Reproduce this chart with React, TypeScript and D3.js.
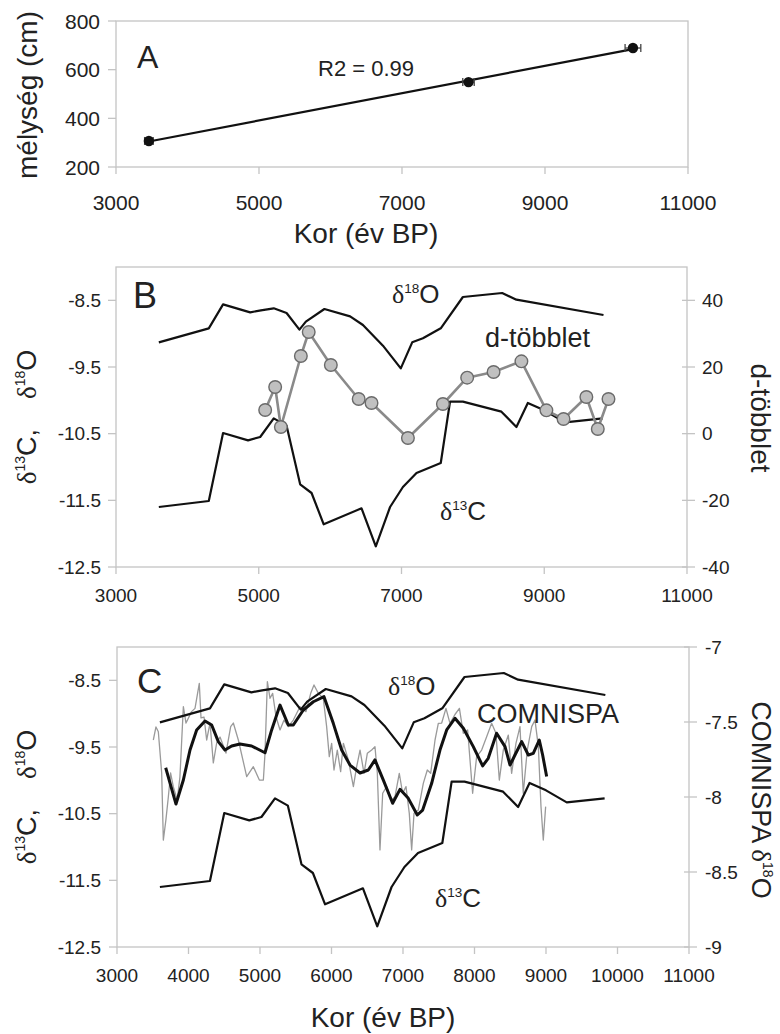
import React from "react";
import * as d3 from "d3";

// ---------- DATA ----------
// Panel A: age-depth
const ageA = [3460, 7930, 10230];
const depthA = [307, 549, 689];
const ageErrA = [60, 80, 110];
const r2Label = "R2 = 0.99";

// delta 18O (speleothem)
const d18OAges = [3600, 4300, 4500, 4880, 5030, 5210, 5390, 5570, 5660, 5920, 6280, 6460, 6740, 6990, 7150, 7300, 7550, 7860, 8410, 8610, 9830];
const d18O = [-9.13, -8.92, -8.56, -8.68, -8.65, -8.62, -8.69, -8.94, -8.82, -8.63, -8.74, -8.87, -9.18, -9.52, -9.13, -9.07, -8.92, -8.45, -8.39, -8.49, -8.72];

// delta 13C
const d13CAges = [3600, 4300, 4500, 4850, 5020, 5210, 5390, 5580, 5740, 5910, 6440, 6640, 6840, 7020, 7210, 7550, 7680, 7860, 8400, 8610, 8770, 9000, 9290, 9820];
const d13C = [-11.6, -11.51, -10.49, -10.6, -10.55, -10.27, -10.38, -11.26, -11.39, -11.86, -11.62, -12.19, -11.6, -11.3, -11.09, -10.94, -10.02, -10.02, -10.17, -10.4, -10.04, -10.15, -10.33, -10.27];

// d-excess
const dxsAges = [5090, 5230, 5310, 5590, 5700, 6010, 6400, 6580, 7090, 7580, 7920, 8290, 8680, 9030, 9270, 9590, 9750, 9900];
const dxs = [7.1, 14, 2, 23.3, 30.5, 20.6, 10.4, 9.2, -1.3, 8.9, 16.8, 18.5, 21.7, 7, 4.4, 11, 1.4, 10.4];

// COMNISPA smoothed
const comSmoothAges = [3681, 3825, 3928, 4021, 4114, 4231, 4324, 4417, 4510, 4604, 4720, 4883, 5070, 5163, 5280, 5396, 5466, 5606, 5746, 5895, 6025, 6142, 6259, 6399, 6515, 6608, 6725, 6855, 6958, 7074, 7200, 7275, 7401, 7517, 7611, 7727, 7844, 7983, 8114, 8192, 8309, 8427, 8497, 8566, 8660, 8753, 8822, 8906, 8953, 9009];
const comSmooth = [-7.805, -8.047, -7.887, -7.687, -7.553, -7.493, -7.52, -7.631, -7.687, -7.66, -7.647, -7.66, -7.705, -7.553, -7.387, -7.52, -7.52, -7.42, -7.365, -7.331, -7.509, -7.687, -7.787, -7.84, -7.82, -7.753, -7.887, -8.042, -7.949, -8.009, -8.12, -8.087, -7.909, -7.687, -7.553, -7.475, -7.542, -7.664, -7.793, -7.742, -7.575, -7.664, -7.787, -7.72, -7.631, -7.72, -7.709, -7.62, -7.72, -7.864];

// COMNISPA raw
const comRawAges = [3508, 3545, 3578, 3625, 3648, 3684, 3718, 3750, 3788, 3842, 3880, 3928, 3965, 4043, 4091, 4151, 4175, 4217, 4254, 4301, 4347, 4394, 4441, 4524, 4590, 4627, 4697, 4814, 4907, 4991, 5047, 5070, 5103, 5140, 5177, 5224, 5280, 5336, 5396, 5466, 5559, 5643, 5709, 5755, 5816, 5885, 5932, 5969, 6002, 6035, 6081, 6128, 6166, 6236, 6306, 6352, 6399, 6455, 6501, 6562, 6608, 6641, 6678, 6716, 6771, 6841, 6888, 6948, 6995, 7042, 7088, 7121, 7154, 7214, 7284, 7340, 7387, 7448, 7494, 7541, 7601, 7657, 7727, 7789, 7843, 7904, 7974, 8030, 8100, 8170, 8240, 8300, 8347, 8403, 8473, 8519, 8580, 8636, 8682, 8738, 8800, 8846, 8893, 8930, 8962, 8995];
const comRaw = [-7.62, -7.533, -7.565, -7.84, -8.287, -8.153, -8.0, -7.84, -7.933, -8.02, -7.867, -7.398, -7.507, -7.431, -7.409, -7.242, -7.473, -7.467, -7.62, -7.507, -7.773, -7.64, -7.6, -7.707, -7.531, -7.507, -7.62, -7.864, -7.798, -7.887, -7.887, -7.709, -7.231, -7.342, -7.309, -7.465, -7.553, -7.487, -7.531, -7.487, -7.398, -7.431, -7.309, -7.253, -7.309, -7.342, -7.531, -7.731, -7.642, -7.82, -7.687, -7.831, -7.642, -7.753, -7.931, -7.798, -7.687, -7.842, -7.709, -7.687, -7.664, -7.842, -8.353, -7.975, -7.931, -8.02, -7.998, -7.842, -7.975, -7.931, -8.109, -8.353, -8.109, -8.087, -7.909, -7.82, -7.842, -7.62, -7.509, -7.507, -7.409, -7.509, -7.45, -7.409, -7.575, -7.553, -7.975, -7.731, -7.687, -7.598, -7.509, -7.575, -7.887, -7.687, -7.587, -7.842, -7.642, -7.531, -7.975, -7.687, -7.531, -7.487, -7.664, -8.064, -8.287, -8.064];

// ticks
const ticksAx = [3000, 5000, 7000, 9000, 11000];
const ticksAy = [200, 400, 600, 800];
const ticksBx = [3000, 5000, 7000, 9000, 11000];
const ticksIso = [-12.5, -11.5, -10.5, -9.5, -8.5];
const ticksDxs = [-40, -20, 0, 20, 40];
const ticksCx = [3000, 4000, 5000, 6000, 7000, 8000, 9000, 10000, 11000];
const ticksCom = [-9, -8.5, -8, -7.5, -7];

// ---------- STYLE ----------
const SANS = "'Liberation Sans', Arial, Helvetica, sans-serif";
const SERIF = "'Liberation Serif', 'Times New Roman', serif";
const AXIS = "#c4c4c4";
const TXT = "#222";

type Pt = [number, number];
const zip = (a: number[], b: number[]): Pt[] => a.map((v, i) => [v, b[i]]);

function Frame({ x, y, tl, tr, tb }: { x: any; y: any; tl?: number[]; tr?: { scale: any; ticks: number[] }; tb: number[] }) {
  const [x0, x1] = x.range();
  const [y0, y1] = y.range();
  return (
    <g>
      <rect x={x0} y={y1} width={x1 - x0} height={y0 - y1} fill="none" stroke={AXIS} strokeWidth={1.3} />
      {tb.map((t) => (
        <line key={"b" + t} x1={x(t)} x2={x(t)} y1={y0} y2={y0 + 7} stroke={AXIS} strokeWidth={1.3} />
      ))}
      {tl && tl.map((t) => (
        <line key={"l" + t} x1={x0 - 8} x2={x0} y1={y(t)} y2={y(t)} stroke={AXIS} strokeWidth={1.3} />
      ))}
      {tr && tr.ticks.map((t) => (
        <line key={"r" + t} x1={x1 - 5} x2={x1 + 8} y1={tr.scale(t)} y2={tr.scale(t)} stroke={AXIS} strokeWidth={1.3} />
      ))}
    </g>
  );
}

function Delta({ iso, el, size, x, y, anchor = "start" }: { iso: string; el: string; size: number; x: number; y: number; anchor?: string }) {
  return (
    <text x={x} y={y} fontSize={size} fontFamily={SANS} fill={TXT} textAnchor={anchor as any}>
      <tspan fontFamily={SERIF}>δ</tspan>
      <tspan fontSize={size * 0.52} dy={-size * 0.4}>{iso}</tspan>
      <tspan dy={size * 0.4}>{el}</tspan>
    </text>
  );
}

export default function App() {
  // Panel A
  const xA = d3.scaleLinear().domain([3000, 11000]).range([116, 688]);
  const yA = d3.scaleLinear().domain([200, 800]).range([167, 21]);
  const mx = d3.mean(ageA)!;
  const my = d3.mean(depthA)!;
  const slope = d3.sum(ageA.map((a, i) => (a - mx) * (depthA[i] - my))) / d3.sum(ageA.map((a) => (a - mx) ** 2));
  const icpt = my - slope * mx;
  const regX = [d3.min(ageA)!, d3.max(ageA)!];

  // Panel B
  const xB = d3.scaleLinear().domain([3000, 11000]).range([116, 687]);
  const yB = d3.scaleLinear().domain([-12.5, -8]).range([567, 267]);
  const yBr = d3.scaleLinear().domain([-40, 50]).range([567, 267]);

  // Panel C
  const xC = d3.scaleLinear().domain([3000, 11000]).range([117, 689]);
  const yC = d3.scaleLinear().domain([-12.5, -8]).range([947, 647]);
  const yCr = d3.scaleLinear().domain([-9, -7]).range([947, 647]);

  const lineB = d3.line<Pt>().x((d) => xB(d[0])).y((d) => yB(d[1]));
  const lineBr = d3.line<Pt>().x((d) => xB(d[0])).y((d) => yBr(d[1]));
  const lineC = d3.line<Pt>().x((d) => xC(d[0])).y((d) => yC(d[1]));
  const lineCr = d3.line<Pt>().x((d) => xC(d[0])).y((d) => yCr(d[1]));

  return (
    <svg width={780} height={1034} style={{ position: "absolute", left: 0, top: 0, background: "#fff" }} fontFamily={SANS}>
      <rect width={780} height={1034} fill="#fff" />

      {/* ===== Panel A ===== */}
      <Frame x={xA} y={yA} tl={ticksAy} tb={ticksAx} />
      {ticksAy.map((t) => (
        <text key={t} x={100} y={yA(t) + 7.5} fontSize={21} textAnchor="end" fill={TXT}>{t}</text>
      ))}
      {ticksAx.map((t) => (
        <text key={t} x={xA(t)} y={210} fontSize={21} textAnchor="middle" fill={TXT}>{t}</text>
      ))}
      <text transform="translate(37,95) rotate(-90)" fontSize={28} textAnchor="middle" fill={TXT}>mélység (cm)</text>
      <text x={366} y={243} fontSize={28} textAnchor="middle" fill={TXT}>Kor (év BP)</text>
      <text x={137} y={68} fontSize={32} fill={TXT}>A</text>
      <text x={318} y={76} fontSize={22} fill={TXT}>{r2Label}</text>
      <line x1={xA(regX[0])} x2={xA(regX[1])} y1={yA(icpt + slope * regX[0])} y2={yA(icpt + slope * regX[1])} stroke="#111" strokeWidth={2.2} />
      {ageA.map((a, i) => (
        <g key={a}>
          <line x1={xA(a - ageErrA[i])} x2={xA(a + ageErrA[i])} y1={yA(depthA[i])} y2={yA(depthA[i])} stroke="#444" strokeWidth={1.3} />
          <line x1={xA(a - ageErrA[i])} x2={xA(a - ageErrA[i])} y1={yA(depthA[i]) - 4} y2={yA(depthA[i]) + 4} stroke="#444" strokeWidth={1.3} />
          <line x1={xA(a + ageErrA[i])} x2={xA(a + ageErrA[i])} y1={yA(depthA[i]) - 4} y2={yA(depthA[i]) + 4} stroke="#444" strokeWidth={1.3} />
          <circle cx={xA(a)} cy={yA(depthA[i])} r={5.2} fill="#111" />
        </g>
      ))}

      {/* ===== Panel B ===== */}
      <Frame x={xB} y={yB} tl={ticksIso} tr={{ scale: yBr, ticks: ticksDxs }} tb={ticksBx} />
      {ticksIso.map((t) => (
        <text key={t} x={101} y={yB(t) + 6.5} fontSize={19} textAnchor="end" fill={TXT}>{t}</text>
      ))}
      {ticksDxs.map((t) => (
        <text key={t} x={702} y={yBr(t) + 6.5} fontSize={19} textAnchor="start" fill={TXT}>{t}</text>
      ))}
      {ticksBx.map((t) => (
        <text key={t} x={xB(t)} y={602} fontSize={19} textAnchor="middle" fill={TXT}>{t}</text>
      ))}
      <path d={lineB(zip(d18OAges, d18O))!} fill="none" stroke="#111" strokeWidth={2.2} strokeLinejoin="round" />
      <path d={lineB(zip(d13CAges, d13C))!} fill="none" stroke="#111" strokeWidth={2.2} strokeLinejoin="round" />
      <path d={lineBr(zip(dxsAges, dxs))!} fill="none" stroke="#8a8a8a" strokeWidth={2.6} strokeLinejoin="round" />
      {dxsAges.map((a, i) => (
        <circle key={a} cx={xB(a)} cy={yBr(dxs[i])} r={6.3} fill="#c0c0c0" stroke="#6a6a6a" strokeWidth={1.4} />
      ))}
      <text x={133} y={308} fontSize={36} fill={TXT}>B</text>
      <Delta iso="18" el="O" size={26} x={392} y={303} />
      <text x={485} y={347} fontSize={27} fill={TXT}>d-többlet</text>
      <Delta iso="13" el="C" size={26} x={440} y={520} />
      <g transform="translate(36,417) rotate(-90)">
        <text x={0} y={0} fontSize={27} textAnchor="middle" fill={TXT}>
          <tspan fontFamily={SERIF}>δ</tspan>
          <tspan fontSize={14} dy={-11}>13</tspan>
          <tspan dy={11}>C,</tspan>
          <tspan dx={30} fontFamily={SERIF}>δ</tspan>
          <tspan fontSize={14} dy={-11}>18</tspan>
          <tspan dy={11}>O</tspan>
        </text>
      </g>
      <text transform="translate(751,418) rotate(90)" fontSize={28} textAnchor="middle" fill={TXT}>d-többlet</text>

      {/* ===== Panel C ===== */}
      <Frame x={xC} y={yC} tl={ticksIso} tr={{ scale: yCr, ticks: ticksCom }} tb={ticksCx} />
      {ticksIso.map((t) => (
        <text key={t} x={101} y={yC(t) + 6.5} fontSize={19} textAnchor="end" fill={TXT}>{t}</text>
      ))}
      {ticksCom.map((t) => (
        <text key={t} x={705} y={yCr(t) + 6.5} fontSize={19} textAnchor="start" fill={TXT}>{t}</text>
      ))}
      {ticksCx.map((t) => (
        <text key={t} x={xC(t)} y={982} fontSize={19} textAnchor="middle" fill={TXT}>{t}</text>
      ))}
      <path d={lineCr(zip(comRawAges, comRaw))!} fill="none" stroke="#9a9a9a" strokeWidth={1.3} strokeLinejoin="round" />
      <path d={lineC(zip(d18OAges, d18O))!} fill="none" stroke="#111" strokeWidth={2.2} strokeLinejoin="round" />
      <path d={lineC(zip(d13CAges, d13C))!} fill="none" stroke="#111" strokeWidth={2.2} strokeLinejoin="round" />
      <path d={lineCr(zip(comSmoothAges, comSmooth))!} fill="none" stroke="#111" strokeWidth={3} strokeLinejoin="round" />
      <text x={137} y={693} fontSize={35} fill={TXT}>C</text>
      <Delta iso="18" el="O" size={26} x={388} y={695} />
      <text x={477} y={723} fontSize={27} fill={TXT}>COMNISPA</text>
      <Delta iso="13" el="C" size={26} x={435} y={907} />
      <g transform="translate(36,797) rotate(-90)">
        <text x={0} y={0} fontSize={27} textAnchor="middle" fill={TXT}>
          <tspan fontFamily={SERIF}>δ</tspan>
          <tspan fontSize={14} dy={-11}>13</tspan>
          <tspan dy={11}>C,</tspan>
          <tspan dx={30} fontFamily={SERIF}>δ</tspan>
          <tspan fontSize={14} dy={-11}>18</tspan>
          <tspan dy={11}>O</tspan>
        </text>
      </g>
      <g transform="translate(752,800) rotate(90)">
        <text x={0} y={0} fontSize={27} textAnchor="middle" fill={TXT}>
          <tspan>COMNISPA </tspan>
          <tspan fontFamily={SERIF}>δ</tspan>
          <tspan fontSize={14} dy={-11}>18</tspan>
          <tspan dy={11}>O</tspan>
        </text>
      </g>
      <text x={383} y={1027} fontSize={28} textAnchor="middle" fill={TXT}>Kor (év BP)</text>
    </svg>
  );
}
